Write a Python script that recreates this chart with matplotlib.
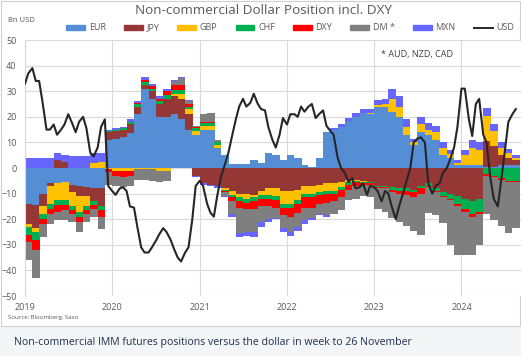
import numpy as np
import pandas as pd
import matplotlib
matplotlib.use("Agg")
import matplotlib.pyplot as plt
import matplotlib.dates as mdates
from matplotlib.patches import Rectangle
from matplotlib.lines import Line2D

plt.rcParams['font.family'] = ['Open Sans', 'DejaVu Sans']

# monthly net positions, Bn USD (Jan 2019 .. Aug 2024)
months = pd.date_range('2019-01-01', periods=68, freq='MS')

EUR = [-14, -14.5, -10, -6, -6, -5.5, -6.5, -7, -7.5, -8, -8, 11,
       11.5, 12, 13.5, 21, 31, 27, 20, 20, 21, 19, 15, 13,
       15, 15, 8, 5, 1.5, 1.5, 1.5, 3, 2, 6, 5, 3,
       5, 4, 1, 0.5, 4, 14, 15, 16, 18.5, 20, 21.5, 21,
       24, 24, 22, 20, 13, 9, 14, 13, 11, 5, 4, 1,
       1, 1, 1, 0.5, 0.5, 1, 1, 1]
JPY = [-8, -9, -5, -1, 3, 2.5, -3, -4, -3.5, -5, -7, 3,
       3, 3, 3.5, 3, 1.5, 3, 5, 7, 7, 8, 6, -3,
       -6, -6.5, -7, -8, -9, -10, -10, -10.5, -9, -8, -8, -9,
       -9, -8.5, -7, -7, -6.5, -6, -6, -5.5, -4.5, -4.5, -5, -5.5,
       -7, -7, -7.5, -8, -8, -8.5, -7, -6, -8, -9.5, -10, -11,
       -12, -13, -12, 10, 8, 4, 3, 2]
GBP = [-1, -1.5, -3, -7, -6.5, -7, -5.5, -6, -4, 2, 2.5, -0.5,
       -1, -1, -1, -0.5, -0.5, -0.5, -1, -1, 1, 2, 2, 1.5,
       1.5, 1.5, 1, -0.5, -1.5, -1.5, -2, -1, -1.5, -2.5, -3, -5,
       -5, -4, -3, -3, -3, -3, -3, -2, -1, -0.5, -0.3, 0.5,
       0.5, 1, 5, 4, 3, 1, 3, 2, 3, 3, 1.5, 1,
       4, 7, 6, 10, 6, 3, 2, 1]
CHF = [-3, -3, -2, -2, -2, -2, -1.5, -2, -1.5, -1.5, -1.5, 0.5,
       0.5, 0.5, 1, 1, 1, 1, 1, 1.5, 1.5, 1.5, 1, 1,
       1, 1, 1, -0.5, -1, -1.5, -1.5, -1.5, -1.5, -1.5, -1.5, -1.5,
       -1.5, -1.5, -1.5, -1.5, -1, -1, -1, -1, -1, -0.5, -0.5, -0.5,
       -0.5, -0.5, -1, -1, -1, -1, -1, -1, -1, -1.5, -2, -3,
       -4, -5, -5, -2.5, -3, -4, -5, -5]
DXY = [-3, -4, -2, -2, -2.5, -2, -1.5, -2, -1.5, -1.5, -2.5, -1,
       -2, -2.5, -2, 0.5, 1, 1, 1, 1.5, 2, 2, 1, 0.5,
       0.5, 0.5, 0.3, -0.5, -1.5, -2.5, -2.5, -3, -3, -3, -3, -3,
       -3.5, -3.5, -4, -4, -3.5, -3.5, -3, -3, -2, -1.5, -1, -0.5,
       -0.5, -0.5, -1, -1, -1.5, -2, -2, -0.5, -0.5, -0.5, -0.5, -1,
       -1, -1, -1, -0.5, -0.5, -0.5, -0.3, -0.3]
DM = [-7, -11, -5, -4, -3.5, -4, -3, -4, -3, -3, -5, -5,
      -4, -4, -4, -4, -4, -4.5, -4.5, -4, 1.5, 2.5, 1, 0.5,
      3, 3.5, 0.5, -1.5, -5, -10, -9, -9, -6, -5, -4, -5,
      -6, -5.5, -5, -4, -4, -5, -5, -5, -4, -5, -4, -5,
      -8, -9, -10, -11, -12, -13, -16, -10, -9, -10, -17.5, -19,
      -17, -15, -12, -15, -17, -18, -20, -18]
MXN = [4, 4, 4, 4, 3, 2.5, 4.5, 4.5, 4.5, 4, 3.5, 0.5,
       0.5, 0.5, 1, 0.5, 1, 1, 1, 1, 0.5, 0.5, 0.5, -0.5,
       -0.5, -0.5, -0.7, -0.5, -1, -1.5, -1.5, -2, -2, -1, -0.5, -1.5,
       -1.5, -1.5, -1.5, -1, -0.5, -0.5, 0.5, 1, 1, 1.5, 1.5, 1.5,
       2, 2, 4, 4, 3, 1.5, 3, 2.5, 2.5, 2, 1.5, 1,
       2, 3, 3, 3, 2.5, 2, 1.5, 1]

# USD line, read twice a month, in left axis units
half_months = pd.date_range('2019-01-01', periods=136, freq='SMS')
USD = [33, 37, 39, 34, 34, 26, 15, 15, 17, 13, 15, 17,
       21, 18, 14, 18, 20, 15.5, 6, 4.5, 8, 16, 19, -7,
       -9, -10.5, -8, -7.5, -9, -15, -15.5, -23, -31, -33, -33, -31,
       -28.5, -26, -23.5, -25, -28, -31.5, -35, -36.5, -33, -31, -20, -7,
       -5, -7, -14, -17.5, -19, -11, -3, 1, 6, 12, 19, 24,
       27, 24, 25.5, 29, 25, 23, 22.5, 16, 11, 8, 13, 19.5,
       17, 21, 21, 20, 24, 22, 24, 25, 19.5, 21, 22.5, 16.5,
       14.5, 13, 4, 0, -2, -5.5, -4, -8, -7.5, -6, -10.5, -7,
       -7.5, -9, -13, -9, -10, -15, -20, -15, -10, -5.5, 0, 10,
       11.5, 12, 10, -6, -10, -7, -6, -2, 0, 3.5, 8, 16,
       31, 31, 19, 12.5, 25, 27, 13, 10, -4, -12, -15, -5,
       7, 18, 21, 23]

names = ["EUR", "JPY", "GBP", "CHF", "DXY", "DM *", "MXN"]
values = [EUR, JPY, GBP, CHF, DXY, DM, MXN]
colors = ['#558ED5', '#953735', '#FFC000', '#00B050', '#FF0000', '#7F7F7F', '#6666FF']

fig = plt.figure(figsize=(5.21, 3.56), dpi=100)
ax = fig.add_axes([25 / 521, 1 - 296 / 356, 496 / 521, 256 / 356])

pos = np.zeros(len(months))
neg = np.zeros(len(months))
for vals, col in zip(values, colors):
    v = np.array(vals, dtype=float)
    p = np.clip(v, 0, None)
    n = np.clip(v, None, 0)
    ax.bar(months, p, width=31, bottom=pos, align='edge', color=col, linewidth=0, zorder=2)
    ax.bar(months, n, width=31, bottom=neg, align='edge', color=col, linewidth=0, zorder=2)
    pos += p
    neg += n

ax.plot(half_months, USD, color='#262626', lw=1.5, zorder=3)

ax.set_ylim(-50, 50)
ax.set_yticks(range(-50, 51, 10))
ax.set_xlim(pd.Timestamp('2019-01-01'), pd.Timestamp('2024-09-06'))
ax.xaxis.set_major_locator(mdates.YearLocator())
ax.xaxis.set_major_formatter(mdates.DateFormatter('%Y'))
ax.grid(True, color='#d9d9d9', lw=0.8, zorder=0)
ax.set_axisbelow(True)
for s in ['top', 'right', 'bottom']:
    ax.spines[s].set_visible(False)
ax.spines['left'].set_color('#d9d9d9')
ax.tick_params(length=0, labelsize=6.5, colors='#595959')
ax.tick_params(axis='y', pad=6)
ax.tick_params(axis='x', pad=5)

handles = [Rectangle((0, 0), 1, 1, color=c) for c in colors]
handles.append(Line2D([0], [0], color='#262626', lw=1.4))
leg = fig.legend(handles, names + ["USD"], ncol=8, loc='center',
                 bbox_to_anchor=(0.557, 1 - 28 / 356), frameon=False, fontsize=6.5,
                 handlelength=2.1, handleheight=0.55, columnspacing=2.0,
                 handletextpad=0.4)
for t in leg.get_texts():
    t.set_color('#595959')

fig.text(0.505, 1 - 10 / 356, "Non-commercial Dollar Position incl. DXY",
         ha='center', va='center', fontsize=9.7, color='#595959')
fig.text(8 / 521, 1 - 21 / 356, "Bn USD", ha='left', va='center', fontsize=5.5, color='#595959')
fig.text(381 / 521, 1 - 55 / 356, "* AUD, NZD, CAD", ha='left', va='center', fontsize=6.5, color='#404040')
fig.text(8 / 521, 1 - 318 / 356, "Source: Bloomberg, Saxo", ha='left', va='center', fontsize=4.3, color='#595959')

fig.patches.append(Rectangle((0, 0), 1, 1 - 326 / 356, transform=fig.transFigure,
                             facecolor='#f4f5f7', edgecolor='none', zorder=-1))
fig.patches.append(Rectangle((1 / 521, 1 - 326 / 356), 519 / 521, 325 / 356, transform=fig.transFigure,
                             facecolor='none', edgecolor='#d0d0d0', lw=0.8, zorder=-1))
fig.text(14 / 521, 1 - 343 / 356,
         "Non-commercial IMM futures positions versus the dollar in week to 26 November",
         ha='left', va='center', fontsize=7.6, color='#1f3050')

fig.savefig("out.png", dpi=100)
